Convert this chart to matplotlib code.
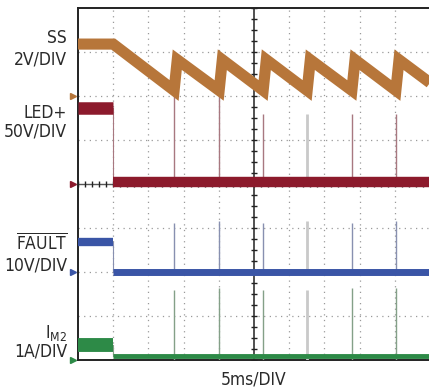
import numpy as np
import matplotlib
matplotlib.use("Agg")
import matplotlib.pyplot as plt
from matplotlib import font_manager

# look for a narrow sans face; fall back to Liberation Sans at a smaller size
FONT, STRETCH, FSIZE = "Liberation Sans", "normal", 11.8
narrow = ("Liberation Sans Narrow", "Roboto Condensed", "Open Sans Condensed",
          "DejaVu Sans Condensed")
for f in font_manager.fontManager.ttflist:
    st = str(f.stretch)
    if f.name in narrow or (f.name in ("DejaVu Sans", "Roboto", "Open Sans", "Noto Sans")
                            and st in ("condensed", "semi-condensed")):
        if f.weight in (400, "normal", "regular") and f.style == "normal":
            FONT, STRETCH, FSIZE = f.name, st, 12.5
            break

plt.rcParams["font.family"] = [FONT, "DejaVu Sans"]
plt.rcParams["font.stretch"] = STRETCH
plt.rcParams["mathtext.fontset"] = "custom"
plt.rcParams["mathtext.rm"] = FONT
plt.rcParams["mathtext.it"] = FONT

# time axis in divisions (5ms/DIV), 10 divisions across
ss_t = [0, 1.0, 2.73, 2.82, 4.01, 4.10, 5.26, 5.35, 6.51, 6.60, 7.78, 7.87, 9.03, 9.12, 10.0]
ss_v = [2.36, 2.36, 0.25, 1.65, 0.25, 1.65, 0.25, 1.65, 0.25, 1.65, 0.25, 1.65, 0.25, 1.65, 0.60]

# step waveforms: high before the fault, low after
led_t = [0, 1.0, 1.0, 10.0]
led_v = [86, 86, 2.5, 2.5]
fault_t = [0, 1.0, 1.0, 10.0]
fault_v = [6.8, 6.8, 0.0, 0.0]
im2_t = [0, 1.0, 1.0, 10.0]
im2_v = [0.34, 0.34, 0.09, 0.09]

# restart spikes
spike_t = [2.73, 4.01, 5.26, 6.51, 7.78, 9.03]
led_spike = [100, 100, 80, 80, 80, 80]
fault_spike = [11.2, 11.6, 11.2, 11.6, 11.2, 11.6]
im2_spike = [1.6, 1.63, 1.6, 1.6, 1.63, 1.63]

# channel settings: (ground position in div, units per div, colour, spike colour)
CH = {
    "ss": (6, 2.0, "#b7763a", "#b08a80"),
    "led": (4, 50.0, "#8c1a2c", "#a87880"),
    "fault": (2, 10.0, "#3a55a6", "#8890b0"),
    "im2": (0, 1.0, "#2d8a47", "#84a088"),
}


def div(ch, vals):
    gnd, scale = CH[ch][0], CH[ch][1]
    return [gnd + v / scale for v in vals]


fig = plt.figure(figsize=(4.29, 3.92), dpi=100)
ax = fig.add_axes([78 / 429, 32 / 392, 352 / 429, 352 / 392])
ax.set_xlim(0, 10)
ax.set_ylim(0, 8)
ax.set_xticks([])
ax.set_yticks([])
for s in ("left", "top", "bottom"):
    ax.spines[s].set_linewidth(1.4)
    ax.spines[s].set_color("#222222")
ax.spines["right"].set_visible(False)

# graticule
for x in range(1, 10):
    if x != 5:
        ax.axvline(x, color="#9a9a9a", lw=0.9, ls=(0, (1, 3.5)), zorder=1)
for y in range(1, 8):
    if y != 4:
        ax.axhline(y, color="#9a9a9a", lw=0.9, ls=(0, (1, 3.5)), zorder=1)
ax.axvline(5, color="#222222", lw=1.1, zorder=2)
ax.axhline(4, color="#555555", lw=1.0, zorder=2)
ty = np.arange(0, 8.01, 0.25)
ax.plot([5] * len(ty), ty, ls="none", marker="_", ms=5, mew=1.0, color="#222222", zorder=2)
tx = np.arange(0, 10.01, 0.2)
ax.plot(tx, [4] * len(tx), ls="none", marker="|", ms=5, mew=1.0, color="#222222", zorder=2)

# spikes (the one at 6.51 shows as a pale wide line)
for ch, vals in (("led", led_spike), ("fault", fault_spike), ("im2", im2_spike)):
    gnd, scale, col, scol = CH[ch]
    tops = div(ch, vals)
    for t, top in zip(spike_t, tops):
        pale = abs(t - 6.51) < 0.01
        ax.vlines(t, gnd, top, color="#c9c9c9" if pale else scol,
                  lw=2.0 if pale else 1.0, zorder=3)

# SS soft-start sawtooth
ax.plot(ss_t, div("ss", ss_v), color=CH["ss"][2], lw=8.0, solid_joinstyle="miter",
        solid_capstyle="butt", zorder=4)

# stepped channels: thick flat parts, faint edge
widths = {"led": (9, 7.5), "fault": (6, 5), "im2": (10, 3.5)}
for ch, t, v in (("led", led_t, led_v), ("fault", fault_t, fault_v), ("im2", im2_t, im2_v)):
    col = CH[ch][2]
    y = div(ch, v)
    w_hi, w_lo = widths[ch]
    ax.plot(t[1:3], y[1:3], color=CH[ch][3], lw=0.8, zorder=3)
    ax.plot(t[:2], y[:2], color=col, lw=w_hi, solid_capstyle="butt", zorder=4)
    ax.plot(t[2:], y[2:], color=col, lw=w_lo, solid_capstyle="butt", zorder=4)

# ground markers
for ch in CH:
    ax.plot(-0.13, CH[ch][0], marker=">", ms=5, color=CH[ch][2], clip_on=False, zorder=5)

# channel labels
txt = dict(ha="right", va="center", fontsize=FSIZE, color="#2a2a2a")
fig.text(67 / 429, 1 - 38 / 392, "SS", **txt)
fig.text(67 / 429, 1 - 59 / 392, "2V/DIV", **txt)
fig.text(67 / 429, 1 - 113 / 392, "LED+", **txt)
fig.text(67 / 429, 1 - 132 / 392, "50V/DIV", **txt)
fig.text(67 / 429, 1 - 243 / 392, r"$\overline{\mathrm{FAULT}}$", **txt)
fig.text(67 / 429, 1 - 265 / 392, "10V/DIV", **txt)
fig.text(67 / 429, 1 - 333 / 392, r"$\mathrm{I_{M2}}$", **txt)
fig.text(67 / 429, 1 - 352 / 392, "1A/DIV", **txt)
fig.text(254 / 429, 1 - 380 / 392, "5ms/DIV", ha="center", va="center",
         fontsize=FSIZE, color="#2a2a2a")

fig.savefig("out.png", dpi=100)
